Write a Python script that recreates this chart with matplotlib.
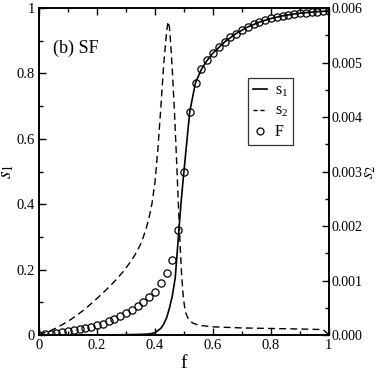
import matplotlib
matplotlib.use("Agg")
import matplotlib.pyplot as plt
from matplotlib.ticker import MultipleLocator, FuncFormatter
from matplotlib.lines import Line2D

plt.rcParams["font.family"] = ["Liberation Serif", "DejaVu Serif"]
plt.rcParams["mathtext.fontset"] = "stix"

# F (circles), every 0.02
f_F = [0.00, 0.02, 0.04, 0.06, 0.08, 0.10, 0.12, 0.14, 0.16, 0.18,
       0.20, 0.22, 0.24, 0.26, 0.28, 0.30, 0.32, 0.34, 0.36, 0.38,
       0.40, 0.42, 0.44, 0.46, 0.48, 0.50, 0.52, 0.54, 0.56, 0.58,
       0.60, 0.62, 0.64, 0.66, 0.68, 0.70, 0.72, 0.74, 0.76, 0.78,
       0.80, 0.82, 0.84, 0.86, 0.88, 0.90, 0.92, 0.94, 0.96, 0.98, 1.00]
F_vals = [0.000, 0.002, 0.004, 0.006, 0.009, 0.012, 0.015, 0.018, 0.022, 0.026,
          0.030, 0.035, 0.042, 0.050, 0.058, 0.067, 0.077, 0.088, 0.100, 0.115,
          0.133, 0.160, 0.190, 0.228, 0.320, 0.500, 0.683, 0.772, 0.812, 0.840,
          0.862, 0.880, 0.896, 0.910, 0.922, 0.933, 0.942, 0.950, 0.957, 0.963,
          0.968, 0.972, 0.976, 0.979, 0.982, 0.984, 0.986, 0.988, 0.989, 0.990, 0.991]

# s1 (solid)
f_s1 = [0.00, 0.10, 0.20, 0.30, 0.35, 0.38, 0.40, 0.42, 0.43, 0.44, 0.45,
        0.46, 0.47, 0.48, 0.49, 0.50, 0.52, 0.54, 0.56, 0.58, 0.60, 0.64,
        0.68, 0.72, 0.76, 0.80, 0.84, 0.88, 0.92, 0.96, 1.00]
s1_vals = [0.000, 0.000, 0.000, 0.001, 0.002, 0.003, 0.007, 0.020, 0.033, 0.052, 0.082,
           0.120, 0.175, 0.290, 0.405, 0.500, 0.683, 0.772, 0.812, 0.840, 0.862, 0.896,
           0.922, 0.942, 0.957, 0.968, 0.976, 0.982, 0.986, 0.989, 0.991]

# s2 (dashed, right axis)
f_s2 = [0.00, 0.03, 0.06, 0.10, 0.13, 0.16, 0.20, 0.23, 0.26, 0.29, 0.31,
        0.33, 0.35, 0.36, 0.37, 0.38, 0.39, 0.40, 0.41, 0.42, 0.43, 0.44,
        0.445, 0.45, 0.455, 0.46, 0.467, 0.475, 0.48, 0.486, 0.492, 0.498,
        0.505, 0.515, 0.53, 0.55, 0.60, 0.70, 0.80, 0.90, 0.98, 1.00]
s2_vals = [0.00001, 0.00006, 0.00013, 0.00025, 0.00036, 0.00048, 0.00067, 0.00082,
           0.00098, 0.00116, 0.00130, 0.00146, 0.00166, 0.00180, 0.00196, 0.00216,
           0.00242, 0.00280, 0.00340, 0.00415, 0.00495, 0.00555, 0.00575, 0.00565,
           0.00530, 0.00485, 0.00413, 0.00316, 0.00250, 0.00175, 0.00110, 0.00068,
           0.00042, 0.00030, 0.00022, 0.00018, 0.00015, 0.00013, 0.00012, 0.00011,
           0.00010, 0.0]

fig = plt.figure(figsize=(3.82, 3.82), dpi=100)
ax = fig.add_axes([0.102, 0.123, 0.759, 0.856])
ax2 = ax.twinx()

ax.plot(f_s1, s1_vals, color="black", lw=1.2)
ax.plot(f_F, F_vals, linestyle="none", marker="o", ms=5.2, mfc="none",
        mec="black", mew=0.9)
ax2.plot(f_s2, s2_vals, color="black", lw=1.0, dashes=(5, 3))

ax.set_xlim(0, 1)
ax.set_ylim(0, 1)
ax2.set_ylim(0, 0.006)

fmt_g = FuncFormatter(lambda v, p: "%g" % round(v, 3))
ax.xaxis.set_major_locator(MultipleLocator(0.2))
ax.xaxis.set_minor_locator(MultipleLocator(0.1))
ax.yaxis.set_major_locator(MultipleLocator(0.2))
ax.yaxis.set_minor_locator(MultipleLocator(0.1))
ax.xaxis.set_major_formatter(fmt_g)
ax.yaxis.set_major_formatter(fmt_g)
ax2.yaxis.set_major_locator(MultipleLocator(0.001))
ax2.yaxis.set_minor_locator(MultipleLocator(0.0005))
ax2.yaxis.set_major_formatter(FuncFormatter(lambda v, p: "%.3f" % v))

ax.tick_params(which="both", direction="in", top=True, right=False,
               labelsize=10.5, pad=3)
ax.tick_params(which="major", length=5, width=1)
ax.tick_params(which="minor", length=3, width=1)
ax2.tick_params(which="both", direction="in", labelsize=10, pad=2)
ax2.tick_params(which="major", length=5, width=1)
ax2.tick_params(which="minor", length=3, width=1)

for a in (ax, ax2):
    for sp in a.spines.values():
        sp.set_linewidth(1.2)

ax.set_xlabel("f", fontsize=14, labelpad=2)
ax.set_ylabel("$s_1$", fontsize=14)
ax.yaxis.set_label_coords(-0.08, 0.5)
ax2.set_ylabel("$s_2$", fontsize=12.5)
ax2.yaxis.set_label_coords(1.115, 0.5)

ax.text(0.048, 0.878, "(b) SF", transform=ax.transAxes, fontsize=13,
        va="center", ha="left")

handles = [
    Line2D([], [], color="black", lw=1.2),
    Line2D([], [], color="black", lw=1.0, dashes=(3, 2)),
    Line2D([], [], linestyle="none", marker="o", ms=5, mfc="none", mec="black", mew=0.9),
]
labels = ["s$_{\\mathregular{1}}$", "s$_{\\mathregular{2}}$", "F"]
leg = ax2.legend(handles, labels, loc="upper left", bbox_to_anchor=(0.72, 0.787),
                 fontsize=11.5, frameon=True, fancybox=False, handlelength=0.9,
                 handletextpad=0.5, borderpad=0.3, labelspacing=0.3,
                 borderaxespad=0)
leg.get_frame().set_edgecolor("black")
leg.get_frame().set_linewidth(0.9)

fig.savefig("out.png", dpi=100)
